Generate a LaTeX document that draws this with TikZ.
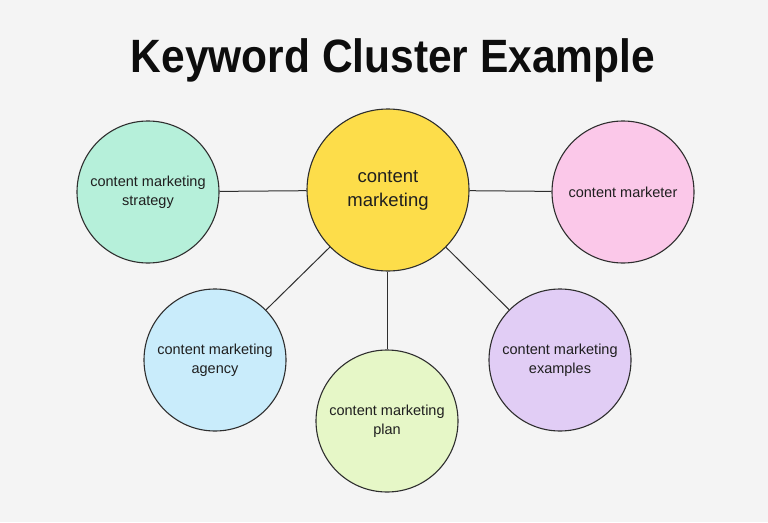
\documentclass[tikz,border=0pt]{standalone}
\usepackage{fontspec}
\setmainfont{Liberation Sans}
\definecolor{bgcol}{HTML}{F4F4F4}
\definecolor{cyellow}{HTML}{FDDD4A}
\definecolor{cteal}{HTML}{B6F0DA}
\definecolor{cpink}{HTML}{FBC8E9}
\definecolor{cblue}{HTML}{C9ECFB}
\definecolor{cgreen}{HTML}{E6F7C7}
\definecolor{cpurple}{HTML}{E1CDF5}
\definecolor{edge}{HTML}{2E2E2E}
\begin{document}
\begin{tikzpicture}[x=1pt,y=-1pt,
  bubble/.style={circle, draw=edge, line width=1.1pt, minimum size=142pt, inner sep=0pt, align=center,
    font=\fontsize{14.5}{19}\selectfont, text=black!88},
  hub/.style={bubble, minimum size=162pt, font=\fontsize{18.5}{24}\selectfont},
  link/.style={draw=edge, line width=1pt}]
\fill[bgcol] (0,0) rectangle (768,522);
\useasboundingbox (0,0) rectangle (768,522);
\node[anchor=base, font=\fontsize{42.5}{50}\selectfont\bfseries, text=black!95, yscale=1.1] (title) at (393,72) {Keyword Cluster Example};
\node[hub, fill=cyellow] (c) at (388,190) {content\\marketing};
\node[bubble, fill=cteal] (s) at (148,192) {content marketing\\strategy};
\node[bubble, fill=cpink] (m) at (623,192) {content marketer};
\node[bubble, fill=cblue] (a) at (215,360) {content marketing\\agency};
\node[bubble, fill=cgreen] (p) at (387,421) {content marketing\\plan};
\node[bubble, fill=cpurple] (e) at (560,360) {content marketing\\examples};
\draw[link] (c) -- (s);
\draw[link] (c) -- (m);
\draw[link] (c) -- (a);
\draw[link] (c.south -| p) -- (p);
\draw[link] (c) -- (e);
\end{tikzpicture}
\end{document}
